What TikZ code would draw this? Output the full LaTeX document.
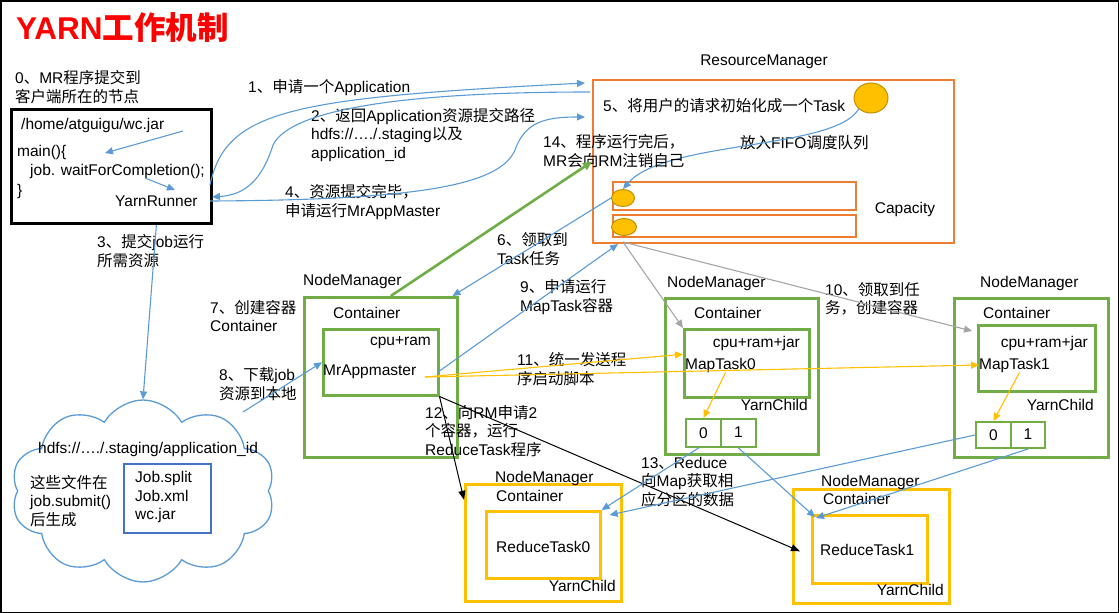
\documentclass[tikz,border=0pt]{standalone}
\usepackage{fontspec}
\setmainfont{Liberation Sans}
\newfontfamily\cjk{Noto Sans CJK SC}
\newcommand{\zh}[1]{{\cjk #1}}
\usetikzlibrary{arrows.meta,positioning,calc,shapes.geometric,shapes.symbols}
\definecolor{lineblue}{RGB}{91,155,213}
\definecolor{rmorange}{RGB}{237,125,49}
\definecolor{nmgreen}{RGB}{112,173,71}
\definecolor{taskgold}{RGB}{255,192,0}
\definecolor{goldedge}{RGB}{191,144,0}
\definecolor{jobblue}{RGB}{68,114,196}
\definecolor{flowgray}{RGB}{165,165,165}

\begin{document}
\begin{tikzpicture}[x=1pt,y=-1pt,font=\fontsize{15.5}{18.5}\selectfont,
    lbl/.style={inner sep=0pt,anchor=west,align=left},
    boxline/.style={draw,inner sep=0pt,anchor=north west},
    rmbox/.style={boxline,rmorange,line width=2.2pt},
    nmbox/.style={boxline,nmgreen,line width=2.5pt},
    rdbox/.style={boxline,taskgold,line width=2.6pt},
    taskdot/.style={ellipse,draw=goldedge,fill=taskgold,line width=1pt,inner sep=0pt},
    flow/.style={lineblue,line width=1.1pt,-{Triangle[length=8pt,width=7pt]}},
    grayflow/.style={flowgray,line width=1.1pt,-{Triangle[length=8pt,width=7pt]}},
    goldflow/.style={taskgold,line width=1.1pt,-{Triangle[length=8pt,width=7pt]}},
    blackflow/.style={black,line width=1pt,-{Triangle[length=9pt,width=7pt]}}]
  \useasboundingbox (0,0) rectangle (1119,613);
  \draw[line width=1.5pt] (0.75,0.75) rectangle (1118.25,612.25);
  \node[lbl,text=red,font=\fontsize{31.5}{36}\selectfont\bfseries] (title) at (16,28) {YARN\zh{工作机制}};

  % client node
  \node[lbl] (stepzero) at (15,87) {0\zh{、}MR\zh{程序提交到}\\\zh{客户端所在的节点}};
  \node[boxline,line width=2.8pt,minimum width=200pt,minimum height=114pt] (client) at (10,108) {};
  \node[lbl] (jarpath) at (21,125) {/home/atguigu/wc.jar};
  \node[lbl] (mainfn) at (17,152) {main()\{};
  \node[lbl] (waitcall) at (30,171) {job. waitForCompletion();};
  \node[lbl] (mainend) at (17,191) {\}};
  \node[lbl] (runner) at (115,201) {YarnRunner};
  \coordinate (jartail) at (183,131);
  \coordinate (mainhead) at (105,153);
  \coordinate (waittail) at (145,178);
  \coordinate (runnerin) at (175,190);
  \draw[flow] (jartail) -- (mainhead);
  \draw[flow] (waittail) -- (runnerin);

  % resource manager
  \node[lbl,anchor=center] (rmname) at (764,62) {ResourceManager};
  \node[rmbox,minimum width=361pt,minimum height=163pt] (rm) at (592,79) {};
  \node[rmbox,minimum width=243pt,minimum height=28pt] (queue1) at (612,181) {};
  \node[rmbox,minimum width=243pt,minimum height=22pt] (queue2) at (612,214) {};
  \node[taskdot,minimum width=34pt,minimum height=30pt] (newtask) at (871,98) {};
  \node[taskdot,minimum width=23pt,minimum height=17pt] (qtask1) at (623,198) {};
  \node[taskdot,minimum width=25pt,minimum height=17pt] (qtask2) at (624,227) {};
  \node[lbl] (stepfive) at (603,106) {5\zh{、将用户的请求初始化成一个}Task};
  \node[lbl] (fifo) at (740,143) {\zh{放入}FIFO\zh{调度队列}};
  \node[lbl,anchor=center] (capacity) at (905,209) {Capacity};
  \draw[flow] (newtask.south west) .. controls (835,150) and (665,140) .. (qtask1.north);

  % client <-> RM
  \node[lbl] (stepone) at (248,88) {1\zh{、申请一个}Application};
  \node[lbl] (steptwo) at (311,135) {2\zh{、返回}Application\zh{资源提交路径}\\hdfs://…./.staging\zh{以及}\\application\_id};
  \node[lbl] (stepfour) at (285,202) {4\zh{、资源提交完毕，}\\\zh{申请运行}MrAppMaster};
  \node[lbl] (stepfourteen) at (543,151) {14\zh{、程序运行完后，}\\MR\zh{会向}RM\zh{注销自己}};
  \coordinate (askapp) at (210,185);
  \coordinate (rmin1) at (585,83);
  \coordinate (rmout2) at (590,92);
  \coordinate (clientin2) at (212,197);
  \coordinate (clientout4) at (210,201);
  \coordinate (rmin4) at (585,117);
  \draw[flow] (askapp) .. controls (226,110) and (290,98) .. (rmin1);
  \draw[flow] (rmout2) .. controls (400,92) and (290,110) .. (273,145) .. controls (262,180) and (245,195) .. (clientin2);
  \draw[flow] (clientout4) .. controls (420,200) and (500,185) .. (515,150) .. controls (525,122) and (545,117) .. (rmin4);

  % hdfs staging area
  \node[lbl] (stepthree) at (97,251) {3\zh{、提交}job\zh{运行}\\\zh{所需资源}};
  \node[cloud,draw=lineblue,line width=1.3pt,cloud puffs=10,cloud puff arc=120,cloud ignores aspect,
        minimum width=264pt,minimum height=182pt,inner sep=0pt] (hdfs) at (143,491) {};
  \node[lbl] (staging) at (38,449) {hdfs://…./.staging/application\_id};
  \node[lbl] (genlater) at (30,501) {\zh{这些文件在}\\job.submit()\\\zh{后生成}};
  \node[boxline,jobblue,line width=2pt,minimum width=87pt,minimum height=69pt] (files) at (123,463) {};
  \node[lbl] (filelist) at (135,497) {Job.split\\Job.xml\\wc.jar};
  \draw[flow] (runner.south |- client.south) -- (hdfs.north);

  % node manager running the app master
  \node[lbl] (nmname1) at (303,281) {NodeManager};
  \node[nmbox,minimum width=153pt,minimum height=160pt] (nm1) at (303,296) {};
  \node[lbl] (ctname1) at (333,313) {Container};
  \node[nmbox,minimum width=115pt,minimum height=66pt] (am) at (322,328) {};
  \node[lbl,anchor=east] (amres) at (431,343) {cpu+ram};
  \node[lbl] (amname) at (323,372) {MrAppmaster};
  \node[lbl] (stepseven) at (210,316) {7\zh{、创建容器}\\Container};
  \node[lbl] (stepeight) at (219,384) {8\zh{、下载}job\\\zh{资源到本地}};
  \node[lbl] (stepsix) at (497,249) {6\zh{、领取到}\\Task\zh{任务}};
  \node[lbl] (stepnine) at (520,297) {9\zh{、申请运行}\\MapTask\zh{容器}};
  \coordinate (cloudout) at (243,412);
  \coordinate (amask) at (438,372);
  \coordinate (rmin9) at (618,244);
  \draw[flow] (cloudout) -- (am.west);
  \draw[line width=2.6pt,nmgreen,-{Triangle[length=9pt,width=8pt]}] ([xshift=10pt]nm1.north) -- (rm.west);
  \draw[flow] (qtask1.west) -- ([xshift=-6pt]nm1.north east);
  \draw[flow] (amask) -- (rmin9);

  % map task node managers
  \node[lbl] (nmname2) at (667,283) {NodeManager};
  \node[nmbox,minimum width=153pt,minimum height=156pt] (nm2) at (664,297) {};
  \node[lbl] (ctname2) at (694,313) {Container};
  \node[nmbox,minimum width=125pt,minimum height=68pt] (mt0) at (683,328) {};
  \node[lbl,anchor=east] (mt0res) at (800,343) {cpu+ram+jar};
  \node[lbl] (mt0name) at (685,365) {MapTask0};
  \node[lbl,anchor=east] (yc0) at (808,405) {YarnChild};
  \node[nmbox,line width=2pt,minimum width=35pt,minimum height=28pt] (part00) at (685,418) {\textcolor{black}{0}};
  \node[nmbox,line width=2pt,minimum width=35pt,minimum height=28pt] (part01) at (720,418) {\textcolor{black}{\raisebox{2pt}{1}}};

  \node[lbl] (nmname3) at (980,283) {NodeManager};
  \node[nmbox,minimum width=154pt,minimum height=159pt] (nm3) at (953,297) {};
  \node[lbl] (ctname3) at (983,313) {Container};
  \node[nmbox,minimum width=117pt,minimum height=66pt] (mt1) at (977,324) {};
  \node[lbl,anchor=east] (mt1res) at (1088,343) {cpu+ram+jar};
  \node[lbl] (mt1name) at (979,365) {MapTask1};
  \node[lbl,anchor=east] (yc1) at (1094,405) {YarnChild};
  \node[nmbox,line width=2pt,minimum width=35pt,minimum height=26pt] (part10) at (975,421) {\textcolor{black}{0}};
  \node[nmbox,line width=2pt,minimum width=34pt,minimum height=26pt] (part11) at (1010,421) {\textcolor{black}{\raisebox{2pt}{1}}};

  \node[lbl] (stepten) at (825,299) {10\zh{、领取到任}\\\zh{务，创建容器}};
  \node[lbl] (stepeleven) at (517,369) {11\zh{、统一发送程}\\\zh{序启动脚本}};
  \coordinate (rmout10) at (623,242);
  \coordinate (amsend) at (425,377);
  \draw[grayflow] (rmout10) -- (mt0.north west);
  \draw[grayflow] (rmout10) -- ([shift={(-5,7)}]mt1.north west);
  \draw[goldflow] (amsend) -- ([yshift=9pt]mt0.west);
  \draw[goldflow] (amsend) -- (mt1name.west);
  \draw[goldflow] ([xshift=5pt]mt0name.south) -- (part00.north);
  \draw[goldflow] ([xshift=5pt]mt1name.south) -- (part10.north);

  % reduce task node managers
  \node[rdbox,minimum width=156pt,minimum height=117pt] (rn0) at (464,483) {};
  \node[lbl] (nmname4) at (495,478) {NodeManager};
  \node[lbl] (ctname4) at (496,496) {Container};
  \node[rdbox,minimum width=114pt,minimum height=67pt] (rt0) at (485,510) {};
  \node[lbl] (rt0name) at (496,547) {ReduceTask0};
  \node[lbl,anchor=east] (yc2) at (616,586) {YarnChild};

  \node[rdbox,minimum width=156pt,minimum height=114pt] (rn1) at (792,488) {};
  \node[lbl] (nmname5) at (821,482) {NodeManager};
  \node[lbl] (ctname5) at (823,499) {Container};
  \node[rdbox,minimum width=115pt,minimum height=68pt] (rt1) at (811,514) {};
  \node[lbl] (rt1name) at (820,550) {ReduceTask1};
  \node[lbl,anchor=east] (yc3) at (944,590) {YarnChild};

  \node[lbl] (steptwelve) at (425,431) {12\zh{、向}RM\zh{申请}2\\\zh{个容器，运行}\\ReduceTask\zh{程序}};
  \node[lbl] (stepthirteen) at (641,482) {13\zh{、}Reduce\\\zh{向}Map\zh{获取相}\\\zh{应分区的数据}};
  \draw[blackflow] (am.south east) -- ([shift={(0,-43)}]rn0.west);
  \draw[blackflow] (am.south east) -- ([shift={(8,5)}]rn1.west);
  \draw[flow] ([xshift=-5pt]part00.south) -- (rt0.north east);
  \draw[flow] (part10.west) -- ([shift={(8,5)}]rt0.north east);
  \draw[flow] (part01.south) -- ([shift={(4,3)}]rt1.north west);
  \draw[flow] (part11.south) -- ([shift={(5,4)}]rt1.north west);
\end{tikzpicture}
\end{document}
